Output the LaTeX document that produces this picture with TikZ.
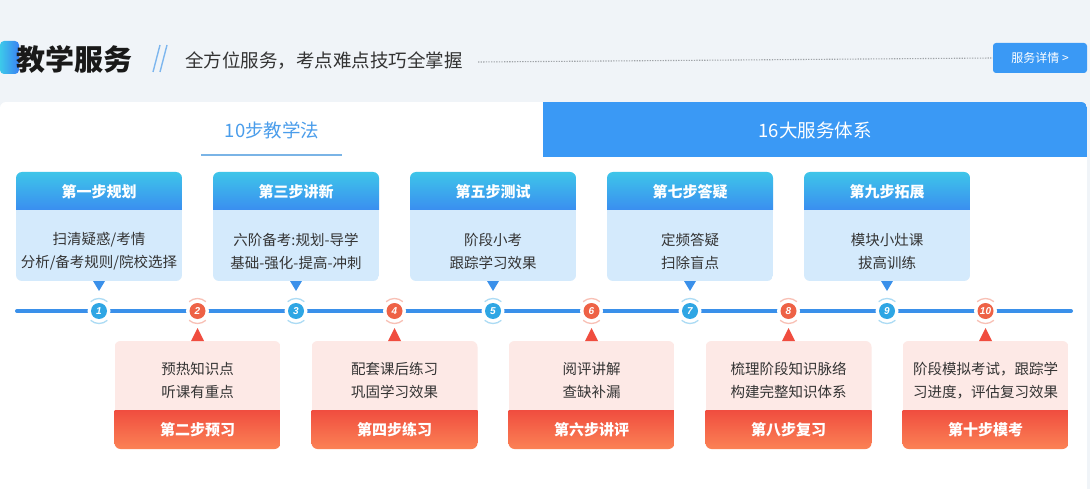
\documentclass[tikz,border=0pt]{standalone}
\usepackage{fontspec}
\setmainfont{Noto Sans CJK SC}
\newfontfamily\numfont{Liberation Sans}
\definecolor{bggray}{HTML}{F0F4F8}
\definecolor{tabblue}{HTML}{3A99F5}
\definecolor{acccyan}{HTML}{3DC9EA}
\definecolor{accblue}{HTML}{3A82F2}
\definecolor{headtop}{HTML}{3EC5E9}
\definecolor{headbot}{HTML}{3A8EF0}
\definecolor{bodyblue}{HTML}{D4EAFC}
\definecolor{tlblue}{HTML}{3A90EA}
\definecolor{circblue}{HTML}{2FA6E4}
\definecolor{circred}{HTML}{EE6246}
\definecolor{redtop}{HTML}{F04D3F}
\definecolor{redbot}{HTML}{FB8255}
\definecolor{pinkbody}{HTML}{FDE9E6}
\definecolor{textgray}{HTML}{333333}
\definecolor{slashblue}{HTML}{7DB6EE}
\definecolor{tabtext}{HTML}{4A9DEB}
\definecolor{underl}{HTML}{7AB4E6}
\definecolor{dotgray}{HTML}{A0A4A8}
\tikzset{
  body/.style={font=\fontsize{14.5}{17}\selectfont, text=textgray, inner sep=0},
  head/.style={font=\fontsize{15}{18}\selectfont\bfseries, text=white, inner sep=0},
  num/.style={circle, inner sep=0, minimum size=16, text=white, font=\numfont\itshape\bfseries\fontsize{10}{12}\selectfont},
  ring/.style={circle, fill=white, minimum size=23, inner sep=0},
  halo/.style={line width=1.3}
}
\newcommand\mytopcard[5]{%
  \begin{scope}
    \clip[rounded corners=6] (#1-83,172) rectangle (#1+83,281);
    \shade[top color=headtop, bottom color=headbot] (#1-83,172) rectangle (#1+83,210);
    \fill[bodyblue] (#1-83,210) rectangle (#1+83,281);
  \end{scope}
  \node[head] (#2h) at (#1,192) {#3};
  \node[body] (#2a) at (#1,240) {#4};
  \node[body] (#2b) at (#1,263) {#5};
  \fill[tlblue] (#1-6,281) -- (#1+6,281) -- (#1,291) -- cycle;
}
\newcommand\mybotcard[5]{%
  \begin{scope}
    \clip[rounded corners=6] (#1-83,341) rectangle (#1+83,449);
    \fill[pinkbody] (#1-83,341) rectangle (#1+83,410);
    \shade[top color=redtop, bottom color=redbot] (#1-83,410) rectangle (#1+83,449);
  \end{scope}
  \node[head] (#2h) at (#1,430) {#3};
  \node[body] (#2a) at (#1,369) {#4};
  \node[body] (#2b) at (#1,392) {#5};
  \fill[redtop] (#1-6.5,341) -- (#1+6.5,341) -- (#1,328) -- cycle;
}
\newcommand\mystepmark[3]{%
  \node[ring] (c#2) at (#1,311) {};
  \draw[halo, #3!40] (#1,311) ++(48:12.5) arc[start angle=48, end angle=132, radius=12.5];
  \draw[halo, #3!40] (#1,311) ++(228:12.5) arc[start angle=228, end angle=312, radius=12.5];
  \node[num, fill=#3] (n#2) at (#1,311) {#2};
}
\begin{document}
\begin{tikzpicture}[x=1pt,y=-1pt]
\useasboundingbox (0,0) rectangle (1090,489);
\clip (0,0) rectangle (1090,489);
\fill[bggray] (0,0) rectangle (1090,489);

% header
\shade[left color=acccyan, right color=accblue, rounded corners=4] (0,41) rectangle (19,74);
\node[anchor=west, inner sep=0, font=\fontsize{29}{32}\selectfont\bfseries, text=black!90] (title) at (16,59) {教学服务};
\draw[slashblue, line width=1.4] (153,72) -- (160,45);
\draw[slashblue, line width=1.4] (160,72) -- (167,45);
\node[anchor=west, inner sep=0, font=\fontsize{18.5}{21}\selectfont, text=textgray] (sub) at (185,61) {全方位服务，考点难点技巧全掌握};
\node[fill=tabblue, rounded corners=3, minimum width=94, minimum height=30, inner sep=0, text=white, font=\fontsize{12}{14}\selectfont] (btn) at (1040,58) {服务详情 >};
\coordinate (dotL) at (478,62);
\draw[dotgray, line width=1.1, dash pattern=on 1.3pt off 1.3pt] (dotL) -- (btn.west);

% panel and tabs
\begin{scope}
  \clip[rounded corners=6] (0,102) rectangle (1087,600);
  \fill[white] (0,102) rectangle (1087,489);
  \fill[tabblue] (543,102) rectangle (1087,157);
\end{scope}
\node[inner sep=0, font=\fontsize{18.5}{21}\selectfont, text=tabtext] (tab1) at (272,130) {10步教学法};
\node[inner sep=0, font=\fontsize{18.5}{21}\selectfont, text=white] (tab2) at (815,130) {16大服务体系};
\coordinate (ulL) at (201,155.5);
\coordinate (ulR) at (342,155.5);
\draw[underl, line width=2] (ulL) -- (ulR);

% timeline
\coordinate (tlL) at (17,311);
\coordinate (tlR) at (1071,311);
\draw[tlblue, line width=4, line cap=round] (tlL) -- (tlR);

% cards
\mytopcard{99}{s1}{第一步规划}{扫清疑惑/考情}{分析/备考规则/院校选择}
\mytopcard{296}{s3}{第三步讲新}{六阶备考:规划-导学}{基础-强化-提高-冲刺}
\mytopcard{493}{s5}{第五步测试}{阶段小考}{跟踪学习效果}
\mytopcard{690}{s7}{第七步答疑}{定频答疑}{扫除盲点}
\mytopcard{887}{s9}{第九步拓展}{模块小灶课}{拔高训练}

\mybotcard{197.5}{s2}{第二步预习}{预热知识点}{听课有重点}
\mybotcard{394.5}{s4}{第四步练习}{配套课后练习}{巩固学习效果}
\mybotcard{591.5}{s6}{第六步讲评}{阅评讲解}{查缺补漏}
\mybotcard{788.5}{s8}{第八步复习}{梳理阶段知识脉络}{构建完整知识体系}
\mybotcard{985.5}{s10}{第十步模考}{阶段模拟考试，跟踪学}{习进度，评估复习效果}

% step markers
\mystepmark{99}{1}{circblue}
\mystepmark{197.5}{2}{circred}
\mystepmark{296}{3}{circblue}
\mystepmark{394.5}{4}{circred}
\mystepmark{493}{5}{circblue}
\mystepmark{591.5}{6}{circred}
\mystepmark{690}{7}{circblue}
\mystepmark{788.5}{8}{circred}
\mystepmark{887}{9}{circblue}
\mystepmark{985.5}{10}{circred}
\end{tikzpicture}
\end{document}
